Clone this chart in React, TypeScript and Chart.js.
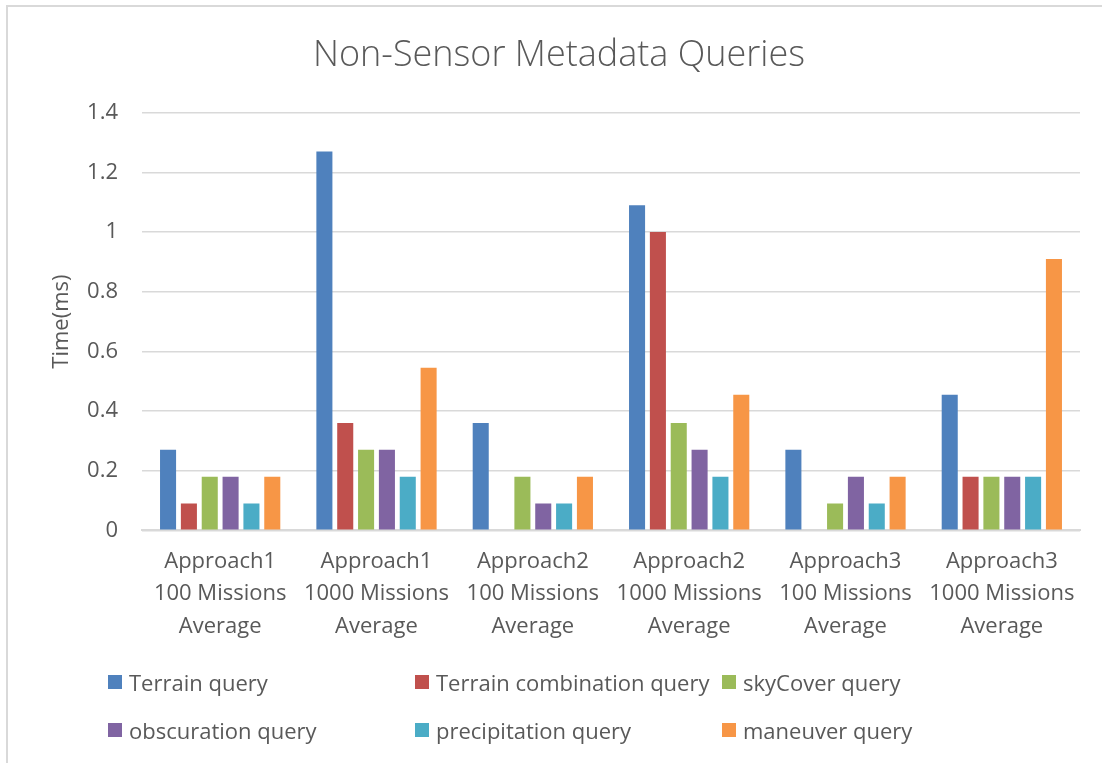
import React, { useEffect, useRef } from "react";
import { Chart, registerables } from "chart.js";

Chart.register(...registerables);

const categories: string[][] = [
  ["Approach1", "100 Missions", "Average"],
  ["Approach1", "1000 Missions", "Average"],
  ["Approach2", "100 Missions", "Average"],
  ["Approach2", "1000 Missions", "Average"],
  ["Approach3", "100 Missions", "Average"],
  ["Approach3", "1000 Missions", "Average"],
];

const seriesNames = [
  "Terrain query",
  "Terrain combination query",
  "skyCover query",
  "obscuration query",
  "precipitation query",
  "maneuver query",
];

const terrain = [0.27, 1.27, 0.36, 1.09, 0.27, 0.455];
const terrainCombination = [0.09, 0.36, 0, 1.0, 0, 0.18];
const skyCover = [0.18, 0.27, 0.18, 0.36, 0.09, 0.18];
const obscuration = [0.18, 0.27, 0.09, 0.27, 0.18, 0.18];
const precipitation = [0.09, 0.18, 0.09, 0.18, 0.09, 0.18];
const maneuver = [0.18, 0.545, 0.18, 0.455, 0.18, 0.91];

const seriesValues = [terrain, terrainCombination, skyCover, obscuration, precipitation, maneuver];
const colors = ["#4F81BD", "#C0504D", "#9BBB59", "#8064A2", "#4BACC6", "#F79646"];

const FONT = "'Open Sans', 'Noto Sans', sans-serif";
const TEXT = "#595959";

export default function App() {
  const ref = useRef<HTMLCanvasElement | null>(null);

  useEffect(() => {
    document.body.style.margin = "0";
    const canvas = ref.current;
    if (!canvas) return;
    const chart = new Chart(canvas, {
      type: "bar",
      data: {
        labels: categories,
        datasets: seriesNames.map((name, i) => ({
          label: name,
          data: seriesValues[i],
          backgroundColor: colors[i],
          borderWidth: 0,
          categoryPercentage: 0.8,
          barPercentage: 0.77,
        })),
      },
      options: {
        responsive: false,
        animation: false,
        layout: { padding: { left: 38, right: 22, top: 0, bottom: 105 } },
        plugins: {
          legend: { display: false },
          tooltip: { enabled: false },
          title: {
            display: true,
            text: "Non-Sensor Metadata Queries",
            color: TEXT,
            font: { family: FONT, size: 36, weight: "300", lineHeight: 1.2 },
            padding: { top: 34, bottom: 35.6 },
          },
        },
        scales: {
          x: {
            grid: { display: false, drawTicks: false },
            border: { display: true, color: "#d9d9d9", width: 2 },
            ticks: {
              color: TEXT,
              padding: 15,
              maxRotation: 0,
              autoSkip: false,
              font: { family: FONT, size: 22, lineHeight: 1.48 },
            },
          },
          y: {
            min: 0,
            max: 1.4,
            afterFit: (scale: any) => {
              scale.width = 104;
            },
            grid: { color: "#d9d9d9", lineWidth: 1.5, drawTicks: false },
            border: { display: false },
            ticks: {
              stepSize: 0.2,
              color: TEXT,
              padding: 24,
              font: { family: FONT, size: 22 },
              callback: (v: any) => String(Math.round(Number(v) * 10) / 10),
            },
            title: {
              display: true,
              text: "Time(ms)",
              color: TEXT,
              font: { family: FONT, size: 22, lineHeight: 1.2 },
              padding: { top: 11, bottom: 0 },
            },
          },
        },
      },
    });
    return () => chart.destroy();
  }, []);

  const legendCols = [108, 415, 722];
  const legendRows = [682, 730];

  return (
    <div style={{ position: "relative", width: 1102, height: 763, background: "#fff", overflow: "hidden" }}>
      <canvas ref={ref} width={1102} height={763} style={{ display: "block", width: 1102, height: 763 }} />
      <div style={{ position: "absolute", left: 6, top: 5, right: 0, height: 2, background: "#d9d9d9" }} />
      <div style={{ position: "absolute", left: 6, top: 5, bottom: 0, width: 2, background: "#d9d9d9" }} />
      {seriesNames.map((name, i) => {
        const x = legendCols[i % 3];
        const y = legendRows[Math.floor(i / 3)];
        return (
          <div
            key={name}
            style={{
              position: "absolute",
              left: x,
              top: y - 16,
              height: 32,
              display: "flex",
              alignItems: "center",
              fontFamily: FONT,
              fontSize: 22,
              color: TEXT,
              whiteSpace: "nowrap",
            }}
          >
            <span style={{ display: "inline-block", width: 14, height: 14, background: colors[i], marginRight: 7 }} />
            <span>{name}</span>
          </div>
        );
      })}
    </div>
  );
}
